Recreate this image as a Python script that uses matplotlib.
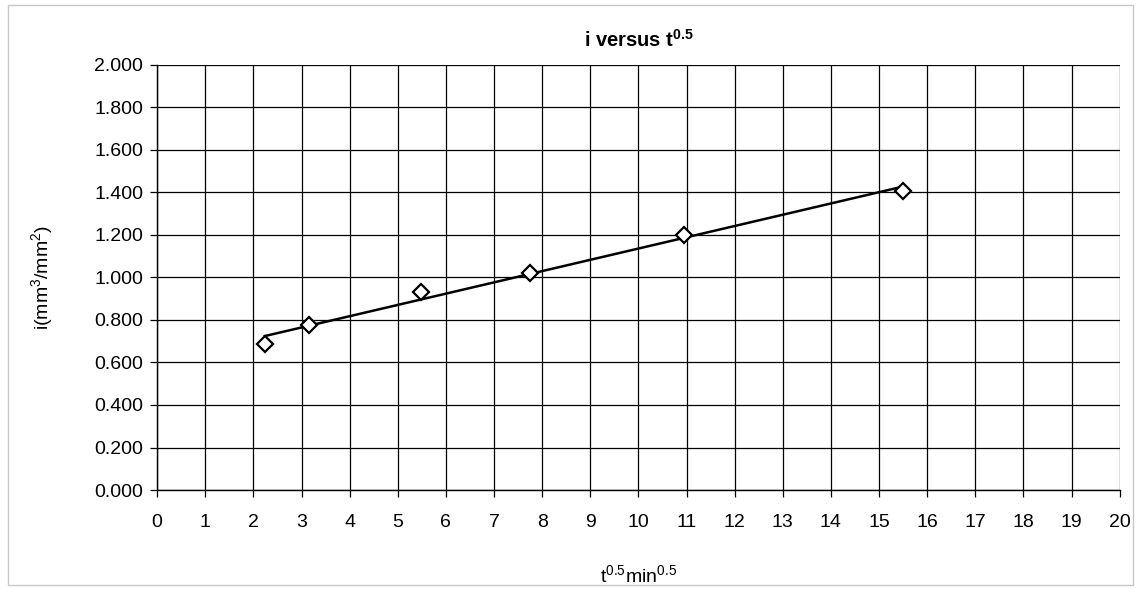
import numpy as np
import matplotlib
matplotlib.use("Agg")
import matplotlib.pyplot as plt
from matplotlib.patches import Rectangle

plt.rcParams['font.family'] = ['Liberation Sans', 'DejaVu Sans']
plt.rcParams['mathtext.fontset'] = 'custom'
plt.rcParams['mathtext.rm'] = 'Liberation Sans'
plt.rcParams['mathtext.it'] = 'Liberation Sans'
plt.rcParams['mathtext.bf'] = 'Liberation Sans:bold'

# data
t_sqrt = [2.236, 3.162, 5.477, 7.746, 10.954, 15.492]
i_vals = [0.687, 0.776, 0.932, 1.021, 1.200, 1.407]
x_ticks = list(range(0, 21))
y_ticks = [0.0, 0.2, 0.4, 0.6, 0.8, 1.0, 1.2, 1.4, 1.6, 1.8, 2.0]

fig = plt.figure(figsize=(11.39, 5.89), dpi=100)
ax = fig.add_axes([0.138, 0.168, 0.845, 0.722])

# outer chart border
fig.patches.append(Rectangle((0.007, 0.006), 0.988, 0.986, transform=fig.transFigure,
                             fill=False, edgecolor='#c8c8c8', lw=1.0))

x = np.array(t_sqrt)
y = np.array(i_vals)
coef = np.polyfit(x, y, 1)
ax.plot([x.min(), x.max()], np.polyval(coef, [x.min(), x.max()]), color='black', lw=1.8, zorder=3)
ax.plot(x, y, linestyle='none', marker='D', markersize=8, markerfacecolor='white',
        markeredgecolor='black', markeredgewidth=1.6, zorder=4)

ax.set_xlim(0, 20)
ax.set_ylim(0, 2.0)
ax.set_xticks(x_ticks)
ax.set_yticks(y_ticks)
ax.set_yticklabels([f"{v:.3f}" for v in y_ticks])
ax.grid(True, color='black', lw=0.9)
ax.set_axisbelow(True)
for s in ['top', 'right']:
    ax.spines[s].set_visible(False)
for s in ['left', 'bottom']:
    ax.spines[s].set_color('black')
    ax.spines[s].set_linewidth(1.0)
ax.tick_params(axis='both', direction='out', length=5, width=0.9, labelsize=14,
               colors='black', pad=5)
ax.tick_params(axis='x', pad=12)

ax.set_title(r'i versus t$^{\mathbf{0.5}}$', fontsize=14.5, fontweight='bold', pad=13)
ax.set_xlabel(r't$^{0.5}$min$^{0.5}$', fontsize=14, labelpad=24)
ax.set_ylabel(r'i(mm$^{3}$/mm$^{2}$)', fontsize=14, labelpad=28)

fig.savefig('out.png', dpi=100)
